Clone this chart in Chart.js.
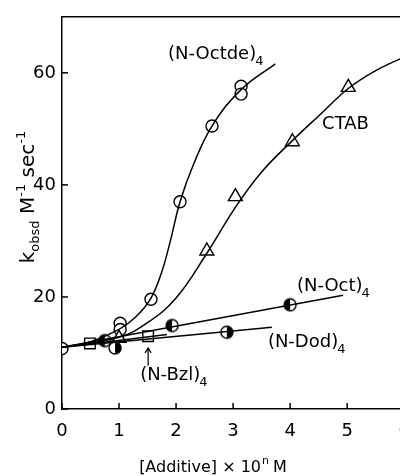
<!DOCTYPE html>
<html>
<head>
<meta charset="utf-8">
<script src="https://cdn.jsdelivr.net/npm/chart.js"></script>
<style>
  html, body { margin: 0; padding: 0; background: #fff; overflow: hidden; }
  #wrap { width: 440px; height: 476px; }
</style>
</head>
<body>
<div id="wrap"><canvas id="chart" width="440" height="476"></canvas></div>
<script>
const xTicks = [0, 1, 2, 3, 4, 5, 6];
const yTicks = [0, 20, 40, 60];

// measured points
const octdeX = [0, 1.02, 1.02, 1.56, 2.07, 2.63, 3.14, 3.14];
const octdeY = [10.8, 15.3, 14.2, 19.6, 37.0, 50.5, 57.6, 56.2];
const ctabX = [1.0, 2.54, 3.04, 4.04, 5.02];
const ctabY = [12.6, 28.2, 37.9, 47.7, 57.4];
const octX = [0.75, 1.93, 4.0];
const octY = [12.2, 14.9, 18.6];
const dodX = [0.93, 2.89];
const dodY = [10.9, 13.7];
const bzlX = [0.49, 1.51];
const bzlY = [11.7, 13.0];

// hand-drawn curves through the points
const octdeFitX = [0, 0.5, 1.0, 1.3, 1.56, 1.75, 1.9, 2.07, 2.3, 2.63, 3.14, 3.74];
const octdeFitY = [11, 12, 14.2, 16.5, 19.8, 24.5, 30, 37, 43.5, 50.5, 57, 61.6];
const ctabFitX = [0, 1.0, 1.5, 2.0, 2.54, 3.04, 3.5, 4.04, 4.5, 5.02, 5.5, 6.0, 6.4];
const ctabFitY = [11, 12.8, 15.4, 19.8, 27.8, 36, 42.3, 47.9, 52.3, 57.2, 60.4, 62.8, 64.3];
const octFitX = [0, 4.93];
const octFitY = [11, 20.3];
const dodFitX = [0, 3.68];
const dodFitY = [11, 14.6];
const bzlFitX = [0, 1.84];
const bzlFitY = [11, 13.3];

const FONT = "'DejaVu Sans', sans-serif";

const pts = (xs, ys) => xs.map((x, i) => ({ x: x, y: ys[i] }));

// half black circle marker
function halfCircle(leftBlack) {
  const c = document.createElement('canvas');
  c.width = 16; c.height = 16;
  const g = c.getContext('2d');
  g.beginPath(); g.arc(8, 8, 6, 0, Math.PI * 2);
  g.fillStyle = '#fff'; g.fill();
  g.beginPath();
  if (leftBlack) g.arc(8, 8, 6, Math.PI / 2, Math.PI * 3 / 2);
  else g.arc(8, 8, 6, -Math.PI / 2, Math.PI / 2);
  g.closePath();
  g.fillStyle = '#000'; g.fill();
  g.beginPath(); g.arc(8, 8, 6, 0, Math.PI * 2);
  g.lineWidth = 1.4; g.strokeStyle = '#000'; g.stroke();
  return c;
}

function curve(xs, ys) {
  return {
    type: 'line', data: pts(xs, ys), borderColor: '#000', borderWidth: 1.5,
    pointRadius: 0, tension: 0.4, fill: false
  };
}
function marks(xs, ys, style, r) {
  return {
    type: 'scatter', data: pts(xs, ys), showLine: false, pointStyle: style,
    pointRadius: r, backgroundColor: '#fff', borderColor: '#000', borderWidth: 1.4
  };
}

// text notes: [text, x, y (baseline), subscript]
const notes = [
  ['(N-Octde)', 1.86, 62.5, '4'],
  ['CTAB', 4.56, 49.9, ''],
  ['(N-Oct)', 4.12, 21.0, '4'],
  ['(N-Dod)', 3.61, 11.0, '4'],
  ['(N-Bzl)', 1.37, 5.2, '4']
];

const extras = {
  id: 'extras',
  afterDraw(chart) {
    const ctx = chart.ctx, a = chart.chartArea;
    const xs = chart.scales.x, ys = chart.scales.y;
    ctx.save();
    ctx.strokeStyle = '#000'; ctx.fillStyle = '#000'; ctx.lineWidth = 1.5;
    // top frame
    ctx.beginPath(); ctx.moveTo(a.left, a.top); ctx.lineTo(a.right, a.top); ctx.stroke();
    // inward ticks
    xTicks.forEach(v => {
      const p = xs.getPixelForValue(v);
      ctx.beginPath(); ctx.moveTo(p, a.bottom); ctx.lineTo(p, a.bottom - 6); ctx.stroke();
    });
    yTicks.forEach(v => {
      const p = ys.getPixelForValue(v);
      ctx.beginPath(); ctx.moveTo(a.left, p); ctx.lineTo(a.left + 6, p); ctx.stroke();
    });
    // curve notes
    ctx.textBaseline = 'alphabetic'; ctx.textAlign = 'left';
    notes.forEach(n => {
      const px = xs.getPixelForValue(n[1]), py = ys.getPixelForValue(n[2]);
      ctx.font = '18px ' + FONT;
      ctx.fillText(n[0], px, py);
      if (n[3]) {
        const w = ctx.measureText(n[0]).width;
        ctx.font = '13px ' + FONT;
        ctx.fillText(n[3], px + w - 1, py + 6);
      }
    });
    // arrow to (N-Bzl)4 square
    const ax = xs.getPixelForValue(1.51);
    const ay0 = ys.getPixelForValue(7.7), ay1 = ys.getPixelForValue(10.9);
    ctx.lineWidth = 1.2;
    ctx.beginPath(); ctx.moveTo(ax, ay0); ctx.lineTo(ax, ay1);
    ctx.moveTo(ax - 3, ay1 + 5); ctx.lineTo(ax, ay1); ctx.lineTo(ax + 3, ay1 + 5);
    ctx.stroke();
    // x title
    ctx.font = '16px ' + FONT;
    const t1 = '[Additive] \u00d7 10', t2 = 'n', t3 = ' M';
    const w1 = ctx.measureText(t1).width, w3 = ctx.measureText(t3).width;
    ctx.font = '11px ' + FONT;
    const w2 = ctx.measureText(t2).width;
    let sx = 213 - (w1 + w2 + w3) / 2;
    const by = 472;
    ctx.font = '16px ' + FONT; ctx.fillText(t1, sx, by);
    ctx.font = '11px ' + FONT; ctx.fillText(t2, sx + w1 + 1, by - 8);
    ctx.font = '16px ' + FONT; ctx.fillText(t3, sx + w1 + w2, by);
    // y title, rotated
    const parts = [['k', 20, 0], ['obsd', 13, 5], [' M', 20, 0], ['-1', 13, -9], [' sec', 20, 0], ['-1', 13, -9]];
    let total = 0;
    parts.forEach(p => { ctx.font = p[1] + 'px ' + FONT; total += ctx.measureText(p[0]).width; });
    ctx.translate(34, 197);
    ctx.rotate(-Math.PI / 2);
    let cx = -total / 2;
    parts.forEach(p => {
      ctx.font = p[1] + 'px ' + FONT;
      ctx.fillText(p[0], cx, p[2]);
      cx += ctx.measureText(p[0]).width;
    });
    ctx.restore();
  }
};

new Chart(document.getElementById('chart'), {
  data: {
    datasets: [
      curve(octdeFitX, octdeFitY),
      curve(ctabFitX, ctabFitY),
      curve(octFitX, octFitY),
      curve(dodFitX, dodFitY),
      curve(bzlFitX, bzlFitY),
      marks(bzlX, bzlY, 'rect', 7.5),
      marks(ctabX, ctabY, 'triangle', 8),
      marks(dodX, dodY, halfCircle(false), 6),
      marks(octX, octY, halfCircle(true), 6),
      marks(octdeX, octdeY, 'circle', 6)
    ]
  },
  options: {
    responsive: false,
    devicePixelRatio: 1,
    animation: false,
    layout: { padding: { top: 10, right: 13, left: 0, bottom: 0 } },
    plugins: { legend: { display: false }, tooltip: { enabled: false } },
    scales: {
      x: {
        type: 'linear', min: 0, max: 6.4,
        afterBuildTicks: s => { s.ticks = xTicks.map(v => ({ value: v })); },
        afterFit: s => { s.height = 67; },
        grid: { display: false, drawTicks: false },
        border: { display: true, color: '#000', width: 1.5 },
        ticks: { color: '#000', font: { size: 18, family: FONT }, padding: 12 }
      },
      y: {
        type: 'linear', min: 0, max: 70,
        afterBuildTicks: s => { s.ticks = yTicks.map(v => ({ value: v })); },
        afterFit: s => { s.width = 62; },
        grid: { display: false, drawTicks: false },
        border: { display: true, color: '#000', width: 1.5 },
        ticks: { color: '#000', font: { size: 18, family: FONT }, padding: 6 }
      }
    }
  },
  plugins: [extras]
});
</script>
</body>
</html>
